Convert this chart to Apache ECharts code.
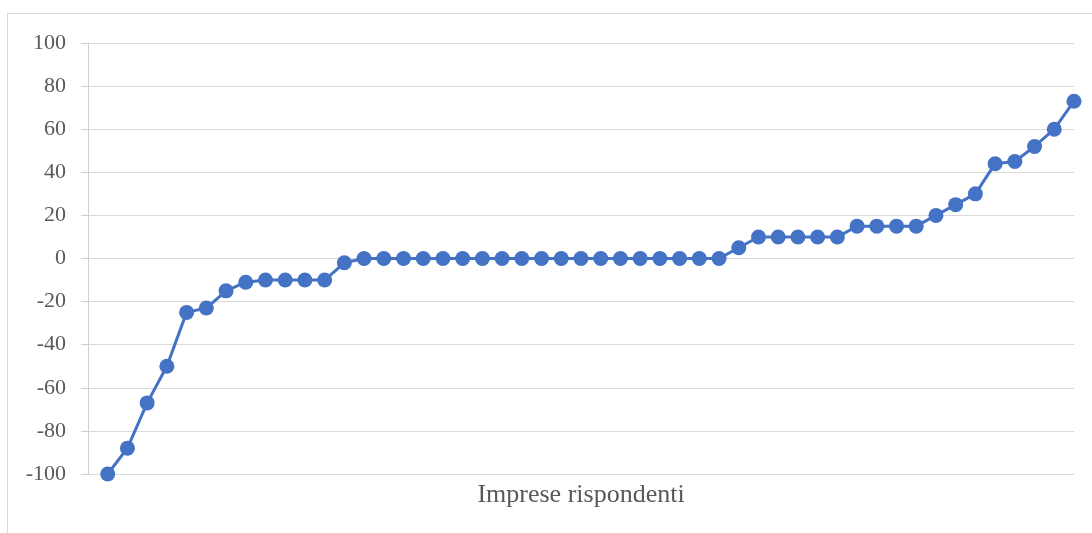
<!DOCTYPE html>
<html>
<head>
<meta charset="utf-8">
<script src="https://cdn.jsdelivr.net/npm/echarts@6/dist/echarts.min.js"></script>
<style>
  html, body { margin: 0; padding: 0; background: #fff; }
  #wrap { position: relative; width: 1092px; height: 533px; overflow: hidden; }
  #frame { position: absolute; left: 7px; top: 13px; width: 1100px; height: 540px;
           border: 1px solid #d9d9d9; box-sizing: border-box; }
  #chart { position: absolute; left: 0; top: 0; width: 1092px; height: 533px; }
</style>
</head>
<body>
<div id="wrap">
  <div id="frame"></div>
  <div id="chart"></div>
</div>
<script>
// Saldo delle risposte per impresa, ordinate dal più basso al più alto
const values = [
  -100, -88, -67, -50, -25, -23, -15, -11, -10, -10, -10, -10, -2,
  0, 0, 0, 0, 0, 0, 0, 0, 0, 0, 0, 0, 0, 0, 0, 0, 0, 0, 0,
  5, 10, 10, 10, 10, 10, 15, 15, 15, 15, 20, 25, 30, 44, 45, 52, 60, 73
];
const categories = ['', ...values.map((_, i) => String(i + 1))];
const yTicks = { min: -100, max: 100, interval: 20 };
const xName = 'Imprese rispondenti';

const textColor = '#595959';
const font = '"Liberation Serif", "Times New Roman", serif';

const chart = echarts.init(document.getElementById('chart'), null, { renderer: 'canvas' });
chart.setOption({
  animation: false,
  grid: { left: 88, right: 18, top: 43, bottom: 59, containLabel: false },
  xAxis: {
    type: 'category',
    data: categories,
    boundaryGap: false,
    name: xName,
    nameLocation: 'middle',
    nameGap: 8,
    nameTextStyle: { color: textColor, fontFamily: font, fontSize: 26 },
    axisLine: { show: false },
    axisTick: { show: false },
    axisLabel: { show: false },
    splitLine: { show: false }
  },
  yAxis: {
    type: 'value',
    min: yTicks.min,
    max: yTicks.max,
    interval: yTicks.interval,
    axisLine: { show: true, lineStyle: { color: '#d0d0d0', width: 1 } },
    axisTick: { show: true, length: 7, lineStyle: { color: '#d0d0d0', width: 1 } },
    axisLabel: { color: textColor, fontFamily: font, fontSize: 22, margin: 22 },
    splitLine: { show: true, lineStyle: { color: '#d9d9d9', width: 1 } }
  },
  series: [{
    type: 'line',
    data: [null, ...values],
    symbol: 'circle',
    symbolSize: 15,
    showSymbol: true,
    showAllSymbol: true,
    lineStyle: { color: '#4472C4', width: 3 },
    itemStyle: { color: '#4472C4' },
    connectNulls: false
  }]
});
</script>
</body>
</html>
